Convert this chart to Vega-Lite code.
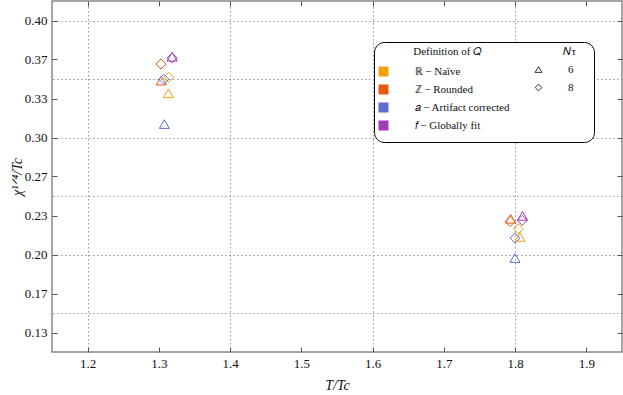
{
  "$schema": "https://vega.github.io/schema/vega-lite/v6.json",
  "width": 570,
  "height": 351,
  "autosize": {"type": "none"},
  "padding": {"left": 52, "top": 1, "right": 1, "bottom": 43},
  "config": {
    "font": "'Liberation Serif', 'Times New Roman', serif",
    "view": {"stroke": "#888888", "strokeWidth": 1.5},
    "axis": {
      "labelFont": "'Liberation Serif', 'Times New Roman', serif",
      "titleFont": "'Liberation Serif', 'Times New Roman', serif",
      "labelFontSize": 13,
      "labelColor": "#111111",
      "titleColor": "#111111",
      "titleFontWeight": "normal",
      "titleFontStyle": "italic",
      "titleFontSize": 14,
      "domain": false,
      "tickColor": "#555555",
      "tickWidth": 1
    },
    "legend": {
      "titleFont": "'Liberation Serif', 'Times New Roman', serif",
      "labelFont": "'Liberation Serif', 'Times New Roman', serif",
      "titleFontWeight": "normal",
      "titleFontSize": 11,
      "labelFontSize": 11,
      "titleColor": "#111111",
      "labelColor": "#111111",
      "titleLimit": 400,
      "labelLimit": 300
    }
  },
  "data": {
    "values": [
      {"T": 1.3134, "chi": 0.3378, "Q": "R", "Nt": "6"},
      {"T": 1.3138, "chi": 0.3515, "Q": "R", "Nt": "8"},
      {"T": 1.3035, "chi": 0.3486, "Q": "Z", "Nt": "6"},
      {"T": 1.3030, "chi": 0.3628, "Q": "Z", "Nt": "8"},
      {"T": 1.3077, "chi": 0.3115, "Q": "a", "Nt": "6"},
      {"T": 1.3068, "chi": 0.3498, "Q": "a", "Nt": "8"},
      {"T": 1.3186, "chi": 0.3690, "Q": "f", "Nt": "6"},
      {"T": 1.3186, "chi": 0.3680, "Q": "f", "Nt": "8"},
      {"T": 1.8068, "chi": 0.2150, "Q": "R", "Nt": "6"},
      {"T": 1.8045, "chi": 0.2220, "Q": "R", "Nt": "8"},
      {"T": 1.7937, "chi": 0.2305, "Q": "Z", "Nt": "6"},
      {"T": 1.7930, "chi": 0.2282, "Q": "Z", "Nt": "8"},
      {"T": 1.7998, "chi": 0.1970, "Q": "a", "Nt": "6"},
      {"T": 1.7998, "chi": 0.2140, "Q": "a", "Nt": "8"},
      {"T": 1.8104, "chi": 0.2330, "Q": "f", "Nt": "6"},
      {"T": 1.8100, "chi": 0.2292, "Q": "f", "Nt": "8"}
    ]
  },
  "layer": [
    {
      "mark": {"type": "point", "opacity": 0},
      "encoding": {
        "x": {
          "field": "T", "type": "quantitative",
          "scale": {"domain": [1.15, 1.95], "nice": false, "zero": false},
          "axis": {"orient": "top", "values": [1.2, 1.4, 1.6, 1.8], "grid": true, "gridDash": [1.5, 2.5], "gridColor": "#999999", "gridWidth": 1, "ticks": false, "labels": false, "title": null}
        },
        "y": {
          "field": "chi", "type": "quantitative",
          "scale": {"domain": [0.11667, 0.41667], "nice": false, "zero": false},
          "axis": {"orient": "right", "values": [0.15, 0.2, 0.25, 0.3, 0.35, 0.4], "grid": true, "gridDash": [1.5, 2.5], "gridColor": "#999999", "gridWidth": 1, "ticks": false, "labels": false, "title": null}
        }
      }
    },
    {
      "mark": {"type": "point", "opacity": 0},
      "encoding": {
        "x": {
          "field": "T", "type": "quantitative",
          "axis": {"orient": "top", "values": [1.2, 1.3, 1.4, 1.5, 1.6, 1.7, 1.8, 1.9], "grid": false, "tickSize": -5, "labels": false, "title": null}
        },
        "y": {
          "field": "chi", "type": "quantitative",
          "axis": {"orient": "right", "values": [0.13333, 0.16667, 0.2, 0.23333, 0.26667, 0.3, 0.33333, 0.36667, 0.4], "grid": false, "tickSize": -5, "labels": false, "title": null}
        }
      }
    },
    {
      "mark": {"type": "point", "filled": false, "strokeWidth": 1, "size": 100, "opacity": 1},
      "encoding": {
        "x": {
          "field": "T", "type": "quantitative",
          "axis": {"orient": "bottom", "values": [1.2, 1.3, 1.4, 1.5, 1.6, 1.7, 1.8, 1.9], "format": ".1f", "grid": false, "tickSize": -5, "labelPadding": 10, "title": "T/Tc", "titlePadding": 8}
        },
        "y": {
          "field": "chi", "type": "quantitative",
          "axis": {"orient": "left", "values": [0.13333, 0.16667, 0.2, 0.23333, 0.26667, 0.3, 0.33333, 0.36667, 0.4], "format": ".2f", "grid": false, "tickSize": -5, "labelPadding": 10, "title": "χ¹ᐟ⁴/Tc", "titlePadding": 0}
        },
        "color": {
          "field": "Q", "type": "nominal",
          "scale": {"domain": ["R", "Z", "a", "f"], "range": ["#F2A00E", "#E65A14", "#5C6ECF", "#A03CB4"]},
          "legend": {
            "orient": "none", "legendX": 322, "legendY": 41,
            "title": "\u200b\u2003\u2003\u2003\u2009Definition of 𝑄\u2003\u2003\u2003\u2003\u2003\u2003\u2003\u2009\u2009𝑁τ\u2009\u2009\u2009\u2009\u2009\u2009\u200b",
            "symbolType": "square", "symbolSize": 25, "symbolStrokeWidth": 5, "symbolOpacity": 1,
            "strokeColor": "#000000", "cornerRadius": 10, "padding": 4, "fillColor": "white",
            "rowPadding": -7, "titlePadding": 9, "labelOffset": 25.5,
            "labelExpr": "datum.label == 'R' ? 'ℝ − Naïve' : datum.label == 'Z' ? 'ℤ − Rounded' : datum.label == 'a' ? '𝑎 − Artifact corrected' : '𝑓 − Globally fit'"
          }
        },
        "shape": {
          "field": "Nt", "type": "nominal",
          "scale": {"domain": ["6", "8"], "range": ["triangle-up", "diamond"]},
          "legend": {
            "orient": "none", "legendX": 481, "legendY": 63, "padding": 0,
            "title": null,
            "symbolSize": 45, "symbolStrokeColor": "#000000", "symbolStrokeWidth": 0.8, "symbolFillColor": "transparent",
            "rowPadding": 6, "labelOffset": 24
          }
        }
      }
    }
  ],
  "resolve": {"axis": {"x": "independent", "y": "independent"}}
}
